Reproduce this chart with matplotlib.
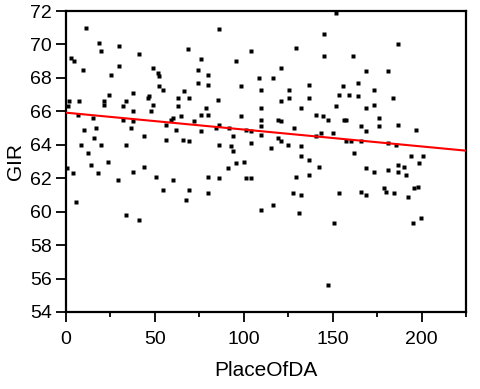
import matplotlib
matplotlib.use("Agg")
import matplotlib.pyplot as plt
import numpy as np
from matplotlib.ticker import MultipleLocator

place_of_da = [
    11.3, 18.7, 19.7, 30.0, 2.8, 4.7, 9.3, 30.0, 25.3, 41.2,
    68.4, 48.7, 51.5, 52.5, 74.0, 74.0, 52.5, 54.3, 37.5, 24.4,
    45.9, 46.9, 62.8, 69.4, 66.5, 1.9, 7.5, 21.5, 21.5, 33.8,
    31.8, 0.9, 48.7, 62.8, 37.5, 47.8, 6.5, 15.0, 31.8, 37.5,
    60.0, 59.1, 64.7, 72.2, 56.3, 10.3, 16.9, 36.6, 61.9, 15.9,
    44.0, 56.3, 65.6, 69.4, 8.4, 19.7, 33.8, 12.2, 0.3, 3.7,
    14.1, 17.8, 23.4, 29.0, 37.5, 44.0, 50.6, 60.0, 54.3, 69.4,
    67.5, 5.6, 33.8, 41.2, 86.2, 145.3, 104.1, 129.4, 145.3, 75.9,
    95.6, 79.7, 120.9, 108.7, 116.2, 79.7, 98.4, 109.7, 125.6, 136.9,
    85.3, 125.6, 136.9, 120.9, 78.8, 109.7, 132.2, 75.9, 79.7, 98.4,
    140.6, 144.3, 147.2, 109.7, 119.0, 120.9, 86.2, 84.4, 91.9, 109.7,
    128.4, 101.3, 104.1, 109.7, 75.9, 143.4, 140.6, 93.7, 119.0, 120.9,
    86.2, 92.8, 104.1, 115.3, 124.7, 132.2, 93.7, 132.2, 136.9, 95.6,
    100.3, 90.9, 142.5, 79.7, 86.2, 101.3, 104.1, 129.4, 136.9, 79.7,
    127.5, 132.2, 109.7, 116.2, 131.2, 147.2, 151.9, 186.5, 161.2, 168.8,
    180.9, 164.0, 155.6, 173.4, 153.7, 159.4, 164.0, 183.7, 151.9, 168.8,
    173.4, 156.5, 157.5, 176.2, 165.9, 176.2, 186.5, 168.8, 196.9, 150.0,
    157.5, 160.3, 165.9, 180.9, 185.6, 162.2, 194.1, 200.6, 168.8, 173.4,
    180.9, 186.5, 186.5, 190.3, 191.3, 198.7, 153.7, 165.9, 168.8, 179.0,
    180.0, 184.7, 192.2, 195.9, 197.8, 150.9, 195.0, 199.7,
]
gir = [
    71.0, 70.1, 69.6, 69.9, 69.2, 69.0, 68.5, 68.7, 68.2, 69.4,
    69.7, 68.6, 68.3, 68.1, 68.5, 67.7, 67.5, 67.3, 67.1, 67.0,
    66.8, 66.9, 66.8, 66.8, 67.2, 66.6, 66.6, 66.6, 66.4, 66.6,
    66.3, 66.3, 66.4, 66.3, 66.0, 66.0, 65.8, 65.6, 65.5, 65.4,
    65.6, 65.5, 65.7, 65.4, 65.2, 64.9, 65.0, 65.0, 64.9, 64.4,
    64.5, 64.3, 64.3, 64.2, 64.0, 64.0, 64.0, 63.5, 62.6, 62.3,
    62.8, 62.3, 63.0, 61.9, 62.4, 62.7, 62.1, 61.9, 61.3, 61.3,
    60.7, 60.6, 59.8, 59.5, 70.9, 70.6, 69.6, 69.8, 69.3, 69.1,
    69.0, 68.2, 68.6, 68.0, 68.0, 67.6, 67.5, 67.3, 67.3, 67.6,
    66.7, 66.8, 66.8, 66.6, 66.2, 66.2, 66.2, 65.8, 65.8, 65.7,
    65.8, 65.7, 65.5, 65.5, 65.5, 65.4, 65.2, 65.0, 65.0, 65.1,
    65.0, 64.9, 64.8, 64.6, 64.8, 64.7, 64.5, 64.5, 64.4, 64.2,
    64.0, 63.9, 64.1, 63.8, 64.0, 63.9, 63.6, 63.3, 63.1, 62.9,
    63.0, 62.6, 62.7, 62.1, 62.0, 62.0, 62.0, 62.1, 62.2, 61.1,
    61.1, 61.0, 60.1, 60.4, 59.9, 55.6, 71.9, 70.0, 69.3, 68.4,
    68.4, 67.7, 67.5, 67.3, 67.0, 67.0, 66.9, 66.8, 66.3, 66.2,
    66.4, 65.5, 65.5, 65.6, 65.1, 65.1, 65.2, 64.8, 64.9, 64.7,
    64.2, 64.2, 64.2, 64.1, 64.0, 63.5, 63.3, 63.3, 62.6, 62.4,
    62.5, 62.8, 62.4, 62.7, 62.2, 62.9, 61.1, 61.2, 61.0, 61.4,
    61.2, 61.1, 60.9, 61.4, 61.5, 59.3, 59.3, 59.6,
]

fit_intercept = 65.92
fit_slope = -0.0101

plt.rcParams['font.family'] = ['Liberation Sans', 'DejaVu Sans']

fig = plt.figure(figsize=(4.81, 3.89), dpi=100)
ax = fig.add_axes([66/481, 1-312/389, 400/481, 301/389])

ax.plot(place_of_da, gir, linestyle='none', marker='s', ms=3.2,
        mfc='black', mec='none', zorder=2)

xfit = np.array([0, 225])
ax.plot(xfit, fit_intercept + fit_slope*xfit, color='#ff0000', lw=1.5, zorder=3)

ax.set_xlim(0, 225)
ax.set_ylim(54, 72)
ax.xaxis.set_major_locator(MultipleLocator(50))
ax.xaxis.set_minor_locator(MultipleLocator(25))
ax.yaxis.set_major_locator(MultipleLocator(2))

for s in ax.spines.values():
    s.set_linewidth(1.6)
ax.tick_params(which='major', length=7, width=1.3, labelsize=14)
ax.tick_params(axis='y', which='major', pad=3)
ax.tick_params(axis='x', which='major', pad=7)
ax.tick_params(which='minor', length=3.5, width=1.3)

ax.set_xlabel('PlaceOfDA', fontsize=15, labelpad=9)
ax.set_ylabel('GIR', fontsize=15, labelpad=4)

fig.savefig('out.png', dpi=100)
